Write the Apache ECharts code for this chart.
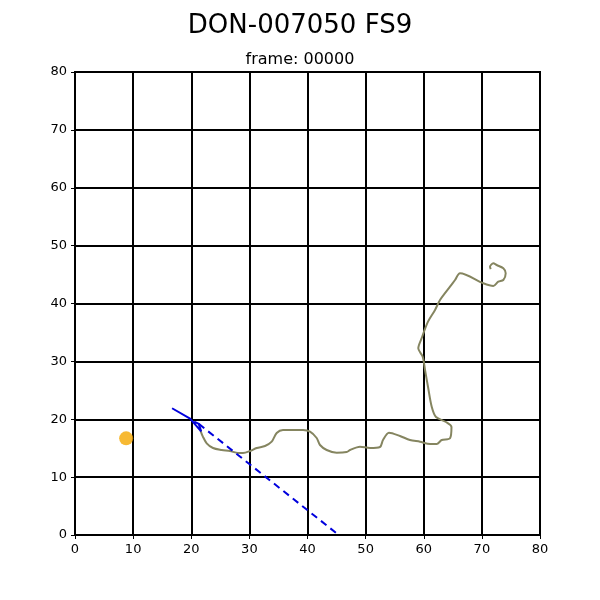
<!DOCTYPE html>
<html>
<head>
<meta charset="utf-8">
<script src="https://cdn.jsdelivr.net/npm/echarts@6/dist/echarts.min.js"></script>
<style>html,body{margin:0;padding:0;background:#fff;}#c{width:600px;height:600px;}</style>
</head>
<body>
<div id="c"></div>
<script>
const titleText = "DON-007050 FS9";
const subtitleText = "frame: 00000";
const xTicks = [0,10,20,30,40,50,60,70,80];
const yTicks = [0,10,20,30,40,50,60,70,80];

const trackX = [21.6,22.0,22.66,23.74,25.24,26.67,28.04,28.9,30.11,31.26,32.69,33.84,34.7,35.78,39.23,40.43,41.58,42.15,43.3,45.02,46.74,47.31,49.03,50.75,52.47,52.99,54.02,55.91,57.63,59.35,61.08,62.23,63.09,64.52,64.77,63.83,62.11,61.37,60.73,60.22,59.82,59.06,59.65,60.73,61.94,62.8,64.52,65.38,66.24,70.25,71.97,72.83,73.69,74.1,73.69,72.55,71.97,71.4,71.52];
const trackY = [18.0,17.0,15.84,15.03,14.69,14.51,14.17,14.17,14.51,15.03,15.38,16.12,17.62,18.14,18.14,17.85,16.76,15.55,14.69,14.22,14.34,14.69,15.26,15.03,15.21,16.41,17.68,17.11,16.41,16.12,15.72,15.72,16.41,16.71,18.66,19.52,20.39,22.17,25.62,28.51,30.81,32.26,34.04,36.86,38.88,40.6,42.9,44.06,45.22,43.49,43.02,43.77,44.06,45.22,46.08,46.65,46.94,46.36,45.96];

const solidX = [16.7,19.8,21.7,21.3,20.5];
const solidY = [21.9,20.1,17.9,19.2,19.6];

const dashX = [21.3,45.0];
const dashY = [19.2,0.3];

const dotX = [8.8];
const dotY = [16.7];

function zip(a,b){return a.map((v,i)=>[v,b[i]]);}

const chart = echarts.init(document.getElementById('c'));
const axisCommon = {
  min: 0, max: 80, interval: 10,
  axisLine: {show: true, onZero: false, lineStyle: {color: '#000', width: 1}},
  axisTick: {show: true, length: 4, lineStyle: {color: '#000'}},
  axisLabel: {color: '#000', fontSize: 13, fontFamily: 'DejaVu Sans'},
  splitLine: {show: true, lineStyle: {color: '#000', width: 2}}
};
chart.setOption({
  animation: false,
  backgroundColor: '#fff',
  title: [
    {text: titleText, left: 'center', top: 8, textStyle: {fontSize: 26, fontWeight: 'normal', color: '#000', fontFamily: 'DejaVu Sans'}},
    {text: subtitleText, left: 'center', top: 47, textStyle: {fontSize: 16, fontWeight: 'normal', color: '#000', fontFamily: 'DejaVu Sans'}}
  ],
  grid: {left: 75, top: 72, width: 465, height: 463, show: true, borderColor: '#000', borderWidth: 2},
  xAxis: Object.assign({type: 'value'}, axisCommon),
  yAxis: Object.assign({type: 'value'}, axisCommon),
  series: [
    {type: 'line', data: zip(trackX, trackY), showSymbol: false, smooth: 0.3,
     lineStyle: {color: '#858560', width: 2}},
    {type: 'line', data: zip(solidX, solidY), showSymbol: false,
     lineStyle: {color: '#0000dd', width: 2}},
    {type: 'line', data: zip(dashX, dashY), showSymbol: false,
     lineStyle: {color: '#0000dd', width: 2, type: [7, 5]}},
    {type: 'scatter', data: zip(dotX, dotY), symbolSize: 14,
     itemStyle: {color: '#f5a800'}}
  ]
});
</script>
</body>
</html>
